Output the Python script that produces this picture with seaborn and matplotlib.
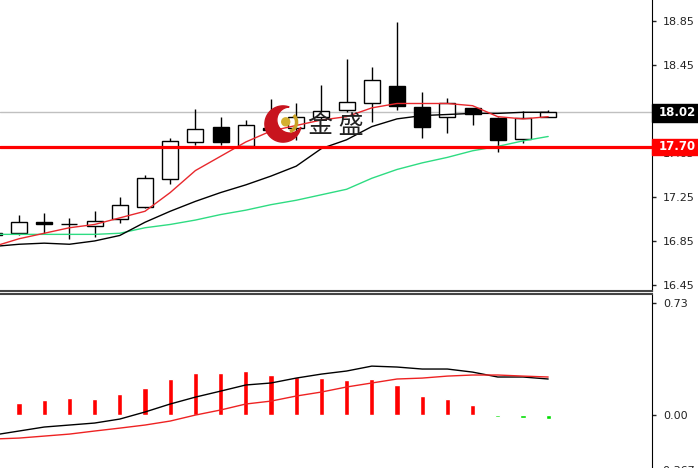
import numpy as np
import pandas as pd
import matplotlib
matplotlib.use("Agg")
import matplotlib.pyplot as plt
import seaborn as sns
from matplotlib.patches import Rectangle, Circle, Polygon, Arc
import matplotlib.transforms as mtrans

# candles (first one is cut off at the left edge)
opens  = [16.92, 16.92, 17.02, 17.00, 16.99, 17.05, 17.16, 17.41, 17.75, 17.89, 17.71, 17.88,
          17.88, 17.98, 18.04, 18.10, 18.26, 18.07, 17.98, 18.06, 17.97, 17.78, 17.98]
highs  = [16.96, 17.09, 17.10, 17.06, 17.12, 17.25, 17.45, 17.79, 18.05, 17.98, 17.95, 18.14,
          18.10, 18.27, 18.50, 18.43, 18.84, 18.20, 18.15, 18.06, 17.98, 18.03, 18.04]
lows   = [16.87, 16.90, 16.91, 16.87, 16.89, 17.01, 17.15, 17.37, 17.72, 17.72, 17.70, 17.81,
          17.77, 17.95, 18.02, 17.93, 18.04, 17.79, 17.83, 17.90, 17.66, 17.74, 17.98]
closes = [16.90, 17.02, 17.00, 17.00, 17.03, 17.18, 17.42, 17.76, 17.87, 17.75, 17.90, 17.86,
          17.98, 18.03, 18.11, 18.31, 18.08, 17.89, 18.10, 18.00, 17.77, 17.97, 18.02]

# moving averages
ma_red   = [16.80, 16.87, 16.92, 16.97, 17.00, 17.06, 17.12, 17.29, 17.49, 17.62, 17.75, 17.85,
            17.90, 17.95, 17.98, 18.06, 18.10, 18.10, 18.10, 18.08, 17.98, 17.96, 17.98]
ma_black = [16.80, 16.82, 16.83, 16.82, 16.85, 16.90, 17.02, 17.12, 17.21, 17.29, 17.36, 17.44,
            17.53, 17.69, 17.77, 17.89, 17.96, 17.99, 18.00, 18.01, 18.01, 18.02, 18.02]
ma_green = [16.91, 16.91, 16.91, 16.91, 16.91, 16.92, 16.97, 17.00, 17.04, 17.09, 17.13, 17.18,
            17.22, 17.27, 17.32, 17.42, 17.50, 17.56, 17.61, 17.67, 17.71, 17.76, 17.80]

# MACD panel
macd_hist   = [0.06, 0.078, 0.098, 0.111, 0.106, 0.137, 0.176, 0.235, 0.274, 0.274, 0.287, 0.261,
               0.248, 0.241, 0.228, 0.235, 0.196, 0.124, 0.104, 0.065, -0.012, -0.022, -0.025]
macd_main   = [-0.130, -0.104, -0.078, -0.065, -0.052, -0.026, 0.020, 0.072, 0.117, 0.156, 0.196, 0.209,
               0.241, 0.267, 0.287, 0.319, 0.313, 0.300, 0.300, 0.280, 0.248, 0.248, 0.235]
macd_signal = [-0.156, -0.150, -0.137, -0.124, -0.104, -0.085, -0.065, -0.039, 0.000, 0.033, 0.072, 0.091,
               0.124, 0.150, 0.183, 0.209, 0.235, 0.241, 0.254, 0.261, 0.261, 0.254, 0.248]

price_ticks = [18.85, 18.45, 18.05, 17.65, 17.25, 16.85, 16.45]
price_labels = ["18.85", "18.45", "", "17.65", "17.25", "16.85", "16.45"]  # 18.05 sits under the price box
macd_ticks = [0.73, 0.00]
macd_labels = ["0.73", "0.00"]
last_price = 18.02
support = 17.70

sns.set_style("white")
plt.rcParams['font.family'] = ['DejaVu Sans']

W, H = 698, 468
fig = plt.figure(figsize=(W / 100, H / 100), dpi=100)


def px_box(x0, y0, x1, y1):
    return [x0 / W, 1 - y1 / H, (x1 - x0) / W, (y1 - y0) / H]


ax = fig.add_axes(px_box(0, 0, 652, 291))
ax2 = fig.add_axes(px_box(0, 294, 652, 468))

df = pd.DataFrame({"i": np.arange(len(opens)), "open": opens, "high": highs, "low": lows,
                   "close": closes, "ma_red": ma_red, "ma_black": ma_black, "ma_green": ma_green,
                   "hist": macd_hist, "main": macd_main, "signal": macd_signal})

# --- price panel ---
up = df["close"] >= df["open"]
ax.vlines(df["i"], df["low"], df["high"], color="black", lw=1, zorder=2)
ax.bar(df["i"], np.maximum((df["close"] - df["open"]).abs(), 0.004),
       bottom=np.minimum(df["open"], df["close"]), width=0.64,
       color=np.where(up, "white", "black"), edgecolor="black", linewidth=1, zorder=3)

sns.lineplot(data=df, x="i", y="ma_green", color="#2edc82", lw=1, ax=ax, zorder=4)
sns.lineplot(data=df, x="i", y="ma_black", color="black", lw=1, ax=ax, zorder=4)
sns.lineplot(data=df, x="i", y="ma_red", color="#e8282d", lw=1, ax=ax, zorder=4)

ax.axhline(last_price, color="#c0c0c0", lw=1, zorder=1)
ax.axhline(support, color="#ff0000", lw=2.3, zorder=5)

ax.set_xlim(0.246, 26.12)
ax.set_ylim(16.395, 19.041)
ax.set_xticks([])
ax.set_xlabel("")
ax.set_ylabel("")
ax.yaxis.tick_right()
ax.set_yticks(price_ticks, price_labels)
ax.tick_params(axis="y", length=3, width=1, labelsize=8, pad=5, colors="#222")
for s in ["left", "top"]:
    ax.spines[s].set_visible(False)
ax.spines["right"].set_color("black")
ax.spines["bottom"].set_color("#444")
ax.spines["bottom"].set_linewidth(1.5)

# --- MACD panel ---
ax2.bar(df["i"], df["hist"], width=0.2,
        color=np.where(df["hist"] > 0, "#ff0000", "#00dd00"), zorder=2)
sns.lineplot(data=df, x="i", y="main", color="black", lw=1, ax=ax2, zorder=3)
sns.lineplot(data=df, x="i", y="signal", color="#ee2222", lw=1, ax=ax2, zorder=3)
ax2.set_xlim(0.246, 26.12)
ax2.set_ylim(-0.345, 0.789)
ax2.set_xticks([])
ax2.set_xlabel("")
ax2.set_ylabel("")
ax2.yaxis.tick_right()
ax2.set_yticks(macd_ticks, macd_labels)
ax2.tick_params(axis="y", length=3, width=1, labelsize=8, pad=5, colors="#222")
for s in ["left", "bottom"]:
    ax2.spines[s].set_visible(False)
ax2.spines["right"].set_color("black")
ax2.spines["top"].set_color("#444")
ax2.spines["top"].set_linewidth(1.5)
tr = mtrans.blended_transform_factory(ax2.transAxes, ax2.transData)
ax2.text(1.012, -0.367, "-0.367", transform=tr, va="center", ha="left",
         fontsize=8, color="#222", clip_on=False)

# --- price labels on the right ---
fig.add_artist(Rectangle((652 / W, 1 - 122 / H), 46 / W, 18 / H,
                         transform=fig.transFigure, color="black", zorder=5))
fig.text(659 / W, 1 - 113 / H, f"{last_price:.2f}", color="white", fontsize=8.5,
         fontweight="bold", va="center", ha="left", zorder=6)
fig.add_artist(Rectangle((652 / W, 1 - 155 / H), 46 / W, 16 / H,
                         transform=fig.transFigure, color="#ff0000", zorder=5))
fig.text(659 / W, 1 - 147 / H, f"{support:.2f}", color="white", fontsize=8.5,
         fontweight="bold", va="center", ha="left", zorder=6)

# --- watermark logo ---
lax = fig.add_axes(px_box(264, 105, 302, 143))
lax.set_xlim(-1.05, 1.05)
lax.set_ylim(-1.05, 1.05)
lax.axis("off")
r1, cx, cy, r2 = 1.0, 0.38, 0.22, 0.72
d = np.hypot(cx, cy)
phi = np.arctan2(cy, cx)
alpha = np.arccos((r1**2 - r2**2 + d**2) / (2 * d * r1))
t_out = np.linspace(phi + alpha, phi + 2 * np.pi - alpha, 120)
p1 = (np.cos(phi + alpha), np.sin(phi + alpha))
p2 = (np.cos(phi - alpha), np.sin(phi - alpha))
psi1 = np.arctan2(p1[1] - cy, p1[0] - cx)
psi2 = np.arctan2(p2[1] - cy, p2[0] - cx)
if psi2 < psi1:
    psi2 += 2 * np.pi
t_in = np.linspace(psi2, psi1, 120)
pts = np.vstack([np.c_[np.cos(t_out), np.sin(t_out)],
                 np.c_[cx + r2 * np.cos(t_in), cy + r2 * np.sin(t_in)]])
lax.add_patch(Polygon(pts, closed=True, color="#c8141e"))
lax.add_patch(Circle((0.15, 0.12), 0.22, color="#d4b030"))
lax.add_patch(Arc((0.2, 0.1), 1.1, 1.1, theta1=-70, theta2=45, lw=2.5, color="#c9a227"))

fig.text(336 / W, 1 - 126 / H, "金 盛", family=["Noto Sans CJK SC", "DejaVu Sans"],
         fontsize=18, color="#222", ha="center", va="center", zorder=6)

fig.savefig("out.png", dpi=100)
